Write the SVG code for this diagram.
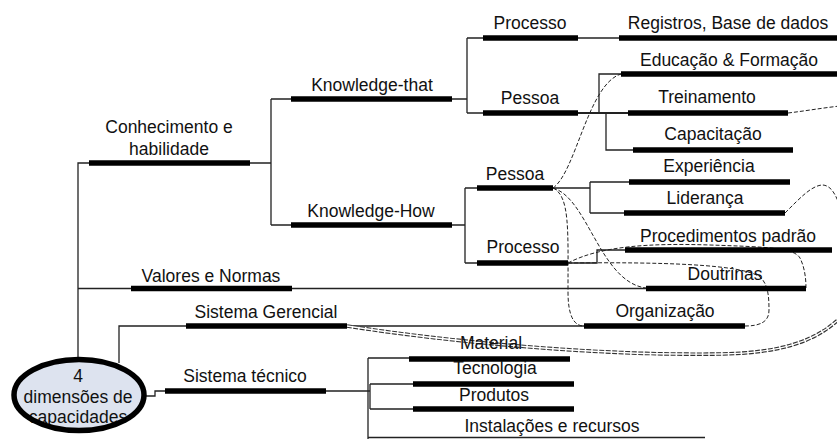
<svg xmlns="http://www.w3.org/2000/svg" width="837" height="439" viewBox="0 0 837 439">
  <style>
    .bar { stroke: #000; stroke-width: 5.5; stroke-linecap: butt; }
    .ln { stroke: #222; stroke-width: 1.3; fill: none; }
    .dash { stroke: #222; stroke-width: 1; stroke-dasharray: 4 2; fill: none; }
    .dbl { stroke: #333; stroke-width: 3.6; stroke-dasharray: 5 1.5; fill: none; }
    .dblgap { stroke: #fff; stroke-width: 1.3; fill: none; }
    text { font-family: "Liberation Sans", Arial, sans-serif; font-size: 17.5px; text-anchor: middle; fill: #111; }
  </style>

  <!-- connectors: tree branches and dashed relation curves -->
  <g id="connectors">
    <!-- trunk from the root ellipse -->
    <path class="ln" d="M78,357 V163 H89"/>
    <path class="ln" d="M250,163 H271 M271,99 V225 M271,99 H291 M271,225 H291"/>
    <path class="ln" d="M452,99 H467 M467,38 V113 M467,38 H483 M467,113 H483"/>
    <path class="ln" d="M578,38 H619"/>
    <path class="ln" d="M578,113 H628" style="stroke-width:2"/>
    <path class="ln" d="M599,113 V74 H621 M606,113 V150 H633"/>
    <path class="ln" d="M452,225 H465 M465,188 V263 M465,188 H477 M465,263 H477"/>
    <path class="ln" d="M553,188 H590 M590,182 V213 M590,182 H629 M590,213 H624"/>
    <path class="ln" d="M568,263 H597 V250 H625"/>
    <path class="ln" d="M78,288.5 H131 M292,288.5 H646"/>
    <path class="ln" d="M119,363 V326 H186 M347,326 H584"/>
    <path class="ln" d="M145,396 H155 V391 H165 M326,391 H368 M368,358 V439 M368,358 H409 M368,391 H370 M370,384 V409 M370,384 H413 M370,409 H413"/>
    <path class="ln" d="M368,437.5 H705" style="stroke-width:1.6"/>

    <!-- dashed relation curves -->
    <path class="dash" d="M553,188 C576,172 588,84 621,74"/>
    <path class="dash" d="M553,188 C588,198 600,282 646,288"/>
    <path class="dash" d="M553,188 C570,196 568,230 568,292 C568,316 574,326 584,326"/>
    <path class="dash" d="M568,263 C600,246 650,243 710,245 C770,247 794,248 800,258 C805,268 806,280 806,288"/>
    <path class="dash" d="M568,263 C660,262 742,264 760,277 C768,284 769,296 769,310 C769,322 760,326 745,326"/>
    <path class="dash" d="M788,113 C805,111 822,108 840,106"/>
    <path class="dash" d="M785,213 C800,198 812,185 823,185 C832,186 836,196 840,206"/>
    <path class="dbl" d="M347,326 C450,342 600,356 720,354 C780,353 815,342 840,318"/>
    <path class="dblgap" d="M347,326 C450,342 600,356 720,354 C780,353 815,342 840,318"/>
  </g>

  <g id="root">
    <ellipse cx="79" cy="395" rx="65" ry="35.5" fill="#dde3ef"/>
    <text x="78" y="382">4</text>
    <text x="78" y="403">dimensões de</text>
    <text x="78" y="423">capacidades</text>
    <ellipse cx="79" cy="395" rx="65" ry="35.5" fill="none" stroke="#000" stroke-width="5.5"/>
  </g>

  <g id="conhecimento">
    <line class="bar" x1="89" y1="163" x2="250" y2="163"/>
    <text x="169" y="133">Conhecimento e</text>
    <text x="169" y="155">habilidade</text>
  </g>
  <g id="knowledge-that">
    <line class="bar" x1="291" y1="99" x2="452" y2="99"/>
    <text x="372" y="91">Knowledge-that</text>
  </g>
  <g id="knowledge-how">
    <line class="bar" x1="291" y1="225" x2="452" y2="225"/>
    <text x="371" y="217">Knowledge-How</text>
  </g>
  <g id="processo-that">
    <line class="bar" x1="483" y1="38" x2="578" y2="38"/>
    <text x="530" y="29">Processo</text>
  </g>
  <g id="registros">
    <line class="bar" x1="619" y1="38" x2="837" y2="38"/>
    <text x="728" y="29">Registros, Base de dados</text>
  </g>
  <g id="pessoa-that">
    <line class="bar" x1="483" y1="113" x2="578" y2="113"/>
    <text x="530" y="104">Pessoa</text>
  </g>
  <g id="educacao">
    <line class="bar" x1="621" y1="74" x2="837" y2="74"/>
    <text x="729" y="66">Educação &amp; Formação</text>
  </g>
  <g id="treinamento">
    <line class="bar" x1="628" y1="113" x2="788" y2="113"/>
    <text x="707" y="103">Treinamento</text>
  </g>
  <g id="capacitacao">
    <line class="bar" x1="633" y1="150" x2="793" y2="150"/>
    <text x="713" y="140">Capacitação</text>
  </g>
  <g id="pessoa-how">
    <line class="bar" x1="477" y1="188" x2="553" y2="188"/>
    <text x="515" y="180">Pessoa</text>
  </g>
  <g id="experiencia">
    <line class="bar" x1="629" y1="182" x2="790" y2="182"/>
    <text x="709" y="172">Experiência</text>
  </g>
  <g id="lideranca">
    <line class="bar" x1="624" y1="213" x2="785" y2="213"/>
    <text x="705" y="204">Liderança</text>
  </g>
  <g id="processo-how">
    <line class="bar" x1="477" y1="263" x2="568" y2="263"/>
    <text x="523" y="253">Processo</text>
  </g>
  <g id="procedimentos">
    <line class="bar" x1="625" y1="250" x2="832" y2="250"/>
    <text x="728" y="242">Procedimentos padrão</text>
  </g>
  <g id="valores">
    <line class="bar" x1="131" y1="288.5" x2="292" y2="288.5"/>
    <text x="211" y="282">Valores e Normas</text>
  </g>
  <g id="doutrinas">
    <line class="bar" x1="646" y1="288.5" x2="806" y2="288.5"/>
    <text x="725" y="280">Doutrinas</text>
  </g>
  <g id="sistema-gerencial">
    <line class="bar" x1="186" y1="326" x2="347" y2="326"/>
    <text x="266" y="318">Sistema Gerencial</text>
  </g>
  <g id="organizacao">
    <line class="bar" x1="584" y1="326" x2="745" y2="326"/>
    <text x="665" y="317">Organização</text>
  </g>
  <g id="sistema-tecnico">
    <line class="bar" x1="165" y1="391" x2="326" y2="391"/>
    <text x="245" y="382">Sistema técnico</text>
  </g>
  <g id="material">
    <line class="bar" x1="409" y1="359" x2="570" y2="359"/>
    <text x="491" y="349">Material</text>
  </g>
  <g id="tecnologia">
    <line class="bar" x1="413" y1="384" x2="574" y2="384"/>
    <text x="495" y="374">Tecnologia</text>
  </g>
  <g id="produtos">
    <line class="bar" x1="413" y1="409" x2="574" y2="409"/>
    <text x="494" y="401">Produtos</text>
  </g>
  <g id="instalacoes">
    <text x="552" y="432">Instalações e recursos</text>
  </g>
</svg>
